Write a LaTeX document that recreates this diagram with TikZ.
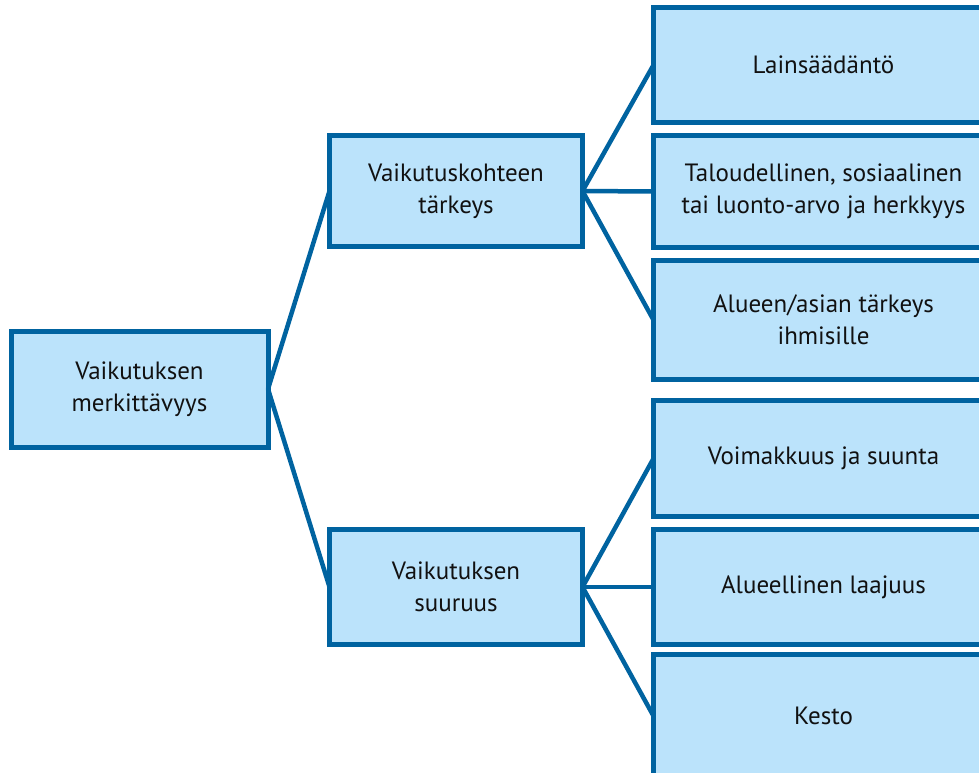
\documentclass[tikz,border=0pt]{standalone}
\usepackage{fontspec}
\setmainfont{PT Sans}
\definecolor{boxline}{RGB}{0,99,160}
\definecolor{boxfill}{RGB}{187,227,251}
\definecolor{txt}{RGB}{17,17,17}
\begin{document}
\begin{tikzpicture}[x=1pt,y=-1pt,
  box/.style={draw=boxline,fill=boxfill,line width=5pt,rectangle,inner sep=0pt,outer sep=0pt,
    align=center,text=txt,font=\fontsize{25}{32}\selectfont},
  link/.style={draw=boxline,line width=4.5pt}]
\useasboundingbox (0,0) rectangle (979,773);
\clip (0,0) rectangle (979,773);
\node[box,minimum width=257pt,minimum height=116pt] (root) at (139.5,389) {Vaikutuksen\\merkittävyys};
\node[box,minimum width=253pt,minimum height=111pt] (m1) at (456,191) {Vaikutuskohteen\\tärkeys};
\node[box,minimum width=253pt,minimum height=115pt] (m2) at (456,587) {Vaikutuksen\\suuruus};
\node[box,minimum width=340pt,minimum height=115pt] (b1) at (823.5,65) {Lainsäädäntö};
\node[box,minimum width=340pt,minimum height=112pt] (b2) at (823.5,191.5) {Taloudellinen, sosiaalinen\\tai luonto-arvo ja herkkyys};
\node[box,minimum width=340pt,minimum height=119pt] (b3) at (823.5,320) {Alueen/asian tärkeys\\ihmisille};
\node[box,minimum width=340pt,minimum height=116pt] (b4) at (823.5,458.5) {Voimakkuus ja suunta};
\node[box,minimum width=340pt,minimum height=115pt] (b5) at (823.5,587) {Alueellinen laajuus};
\node[box,minimum width=340pt,minimum height=124pt] (b6) at (823.5,716) {Kesto};
\draw[link] (root.east) -- (m1.west);
\draw[link] (root.east) -- (m2.west);
\draw[link] (m1.east) -- (b1.west);
\draw[link] (m1.east) -- (b2.west);
\draw[link] (m1.east) -- (b3.west);
\draw[link] (m2.east) -- (b4.west);
\draw[link] (m2.east) -- (b5.west);
\draw[link] (m2.east) -- (b6.west);
\end{tikzpicture}
\end{document}
